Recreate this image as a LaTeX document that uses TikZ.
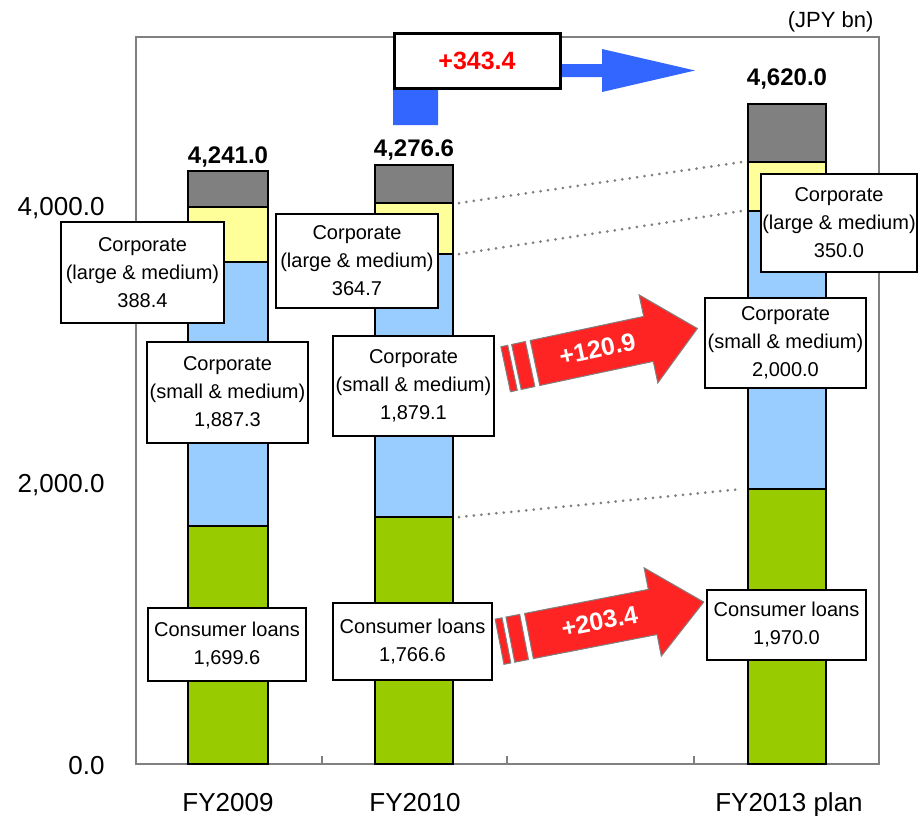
\documentclass[tikz,border=0pt]{standalone}
\usepackage{fontspec}
\setmainfont{Liberation Sans}
\usepackage{xcolor}
\definecolor{othergray}{RGB}{128, 128, 128}
\definecolor{largeyellow}{RGB}{255, 255, 153}
\definecolor{smallblue}{RGB}{153, 204, 255}
\definecolor{consumergreen}{RGB}{153, 204, 0}
\definecolor{growthred}{RGB}{255, 36, 36}
\definecolor{totalblue}{RGB}{51, 102, 255}
\usepackage{tikz}
\usetikzlibrary{
    positioning,
    calc
}
\tikzstyle{segment} = [
    rectangle,
    draw=black,
    line width=1.3pt,
    inner sep=0pt,
    outer sep=0pt,
    anchor=north west
]
\tikzstyle{labelbox} = [
    rectangle,
    draw=black,
    fill=white,
    line width=1.2pt,
    inner sep=1pt,
    align=center,
    font=\fontsize{20}{28}\selectfont
]
\tikzstyle{growth} = [
    fill=growthred,
    draw=gray,
    line width=1pt
]

\begin{document}
\begin{tikzpicture}[
    x=1pt, y=-1pt,
    axislabel/.style={anchor=base east, font=\fontsize{26}{26}\selectfont},
    catlabel/.style={anchor=base, font=\fontsize{26}{26}\selectfont},
    totallabel/.style={anchor=base, font=\bfseries\fontsize{24}{24}\selectfont},
    growthtext/.style={text=white, font=\bfseries\fontsize{25}{25}\selectfont, transform shape},
    dotline/.style={draw=gray, line width=3pt, line cap=round, dash pattern=on 0pt off 7.5pt}
]
    \useasboundingbox (0,0) rectangle (923,815);

    % Plot frame
    \draw[othergray, line width=1.5pt] (136,37) rectangle (879,764);
    \draw[othergray, line width=1.2pt] (322,764) -- (322,756) (507,764) -- (507,756) (694,764) -- (694,756);

    % Axis labels
    \node[axislabel] (y4000) at (108,215) {4,000.0};
    \node[axislabel] (y2000) at (108,492) {2,000.0};
    \node[axislabel] (y0) at (108,774) {0.0};
    \node[anchor=base east, font=\fontsize{22}{22}\selectfont] (unit) at (877,27) {(JPY bn)};

    \node[catlabel] (c2009) at (228,811) {FY2009};
    \node[catlabel] (c2010) at (415,811) {FY2010};
    \node[catlabel] (c2013) at (789,811) {FY2013 plan};

    % FY2009 bar
    \node[segment, fill=othergray, minimum width=80pt, minimum height=36pt] (b1other) at (188,171) {};
    \node[segment, fill=largeyellow, minimum width=80pt, minimum height=55pt] (b1large) at (188,207) {};
    \node[segment, fill=smallblue, minimum width=80pt, minimum height=264pt] (b1small) at (188,262) {};
    \node[segment, fill=consumergreen, minimum width=80pt, minimum height=238pt] (b1cons) at (188,526) {};

    % FY2010 bar
    \node[segment, fill=othergray, minimum width=78pt, minimum height=38pt] (b2other) at (375,165) {};
    \node[segment, fill=largeyellow, minimum width=78pt, minimum height=51pt] (b2large) at (375,203) {};
    \node[segment, fill=smallblue, minimum width=78pt, minimum height=263pt] (b2small) at (375,254) {};
    \node[segment, fill=consumergreen, minimum width=78pt, minimum height=247pt] (b2cons) at (375,517) {};

    % FY2013 plan bar
    \node[segment, fill=othergray, minimum width=78pt, minimum height=58pt] (b3other) at (748,104) {};
    \node[segment, fill=largeyellow, minimum width=78pt, minimum height=49pt] (b3large) at (748,162) {};
    \node[segment, fill=smallblue, minimum width=78pt, minimum height=278pt] (b3small) at (748,211) {};
    \node[segment, fill=consumergreen, minimum width=78pt, minimum height=275pt] (b3cons) at (748,489) {};

    % Totals
    \node[totallabel] (t2009) at (228,163) {4,241.0};
    \node[totallabel] (t2010) at (414,156) {4,276.6};
    \node[totallabel] (t2013) at (787,85) {4,620.0};

    % Dotted guides
    \draw[dotline] ($(b2large.north east)+(6,0)$) -- ($(b3large.north west)+(-6,0)$);
    \draw[dotline] ($(b2small.north east)+(6,0)$) -- ($(b3small.north west)+(-6,0)$);
    \draw[dotline] ($(b2cons.north east)+(6,0)$) -- ($(b3cons.north west)+(-6,0)$);

    % Value boxes
    \node[labelbox, minimum width=163pt, minimum height=101pt] (l2009) at (142.5,272.5) {Corporate\\(large \& medium)\\388.4};
    \node[labelbox, minimum width=161pt, minimum height=101pt] (s2009) at (227.5,392.5) {Corporate\\(small \& medium)\\1,887.3};
    \node[labelbox, minimum width=158pt, minimum height=73pt] (k2009) at (227,644.5) {Consumer loans\\1,699.6};

    \node[labelbox, minimum width=162pt, minimum height=94pt] (l2010) at (357,261) {Corporate\\(large \& medium)\\364.7};
    \node[labelbox, minimum width=161pt, minimum height=100pt] (s2010) at (413.5,386) {Corporate\\(small \& medium)\\1,879.1};
    \node[labelbox, minimum width=159pt, minimum height=77pt] (k2010) at (412.5,641.5) {Consumer loans\\1,766.6};

    \node[labelbox, minimum width=156pt, minimum height=98pt] (l2013) at (839,223) {Corporate\\(large \& medium)\\350.0};
    \node[labelbox, minimum width=161pt, minimum height=90pt] (s2013) at (785.5,343) {Corporate\\(small \& medium)\\2,000.0};
    \node[labelbox, minimum width=159pt, minimum height=70pt] (k2013) at (786.5,625) {Consumer loans\\1,970.0};

    % Total increase
    \fill[totalblue] (393,125) -- (438,125) -- (438,77) -- (602,77) -- (602,92) -- (695,70.5) -- (602,49) -- (602,64) -- (393,64) -- cycle;
    \node[draw=black, fill=white, line width=3pt, minimum width=166pt, minimum height=55pt, text=red, font=\bfseries\fontsize{25}{25}\selectfont] (jump) at (477,61) {+343.4};

    % Growth arrows
    \begin{scope}[shift={(535,363)}, rotate=12]
        \draw[growth] (-30,-23) rectangle (-23,23);
        \draw[growth] (-19,-23) rectangle (-5,23);
        \draw[growth] (0,-23) -- (116,-23) -- (116,-45) -- (166,0) -- (116,45) -- (116,23) -- (0,23) -- cycle;
        \node[growthtext] (gsmall) at (64,-1) {+120.9};
    \end{scope}
    \begin{scope}[shift={(529,636)}, rotate=11]
        \draw[growth] (-30,-23) rectangle (-23,23);
        \draw[growth] (-19,-23) rectangle (-5,23);
        \draw[growth] (0,-23) -- (126,-23) -- (126,-45) -- (178,0) -- (126,45) -- (126,23) -- (0,23) -- cycle;
        \node[growthtext] (gcons) at (72,-1) {+203.4};
    \end{scope}

\end{tikzpicture}
\end{document}
